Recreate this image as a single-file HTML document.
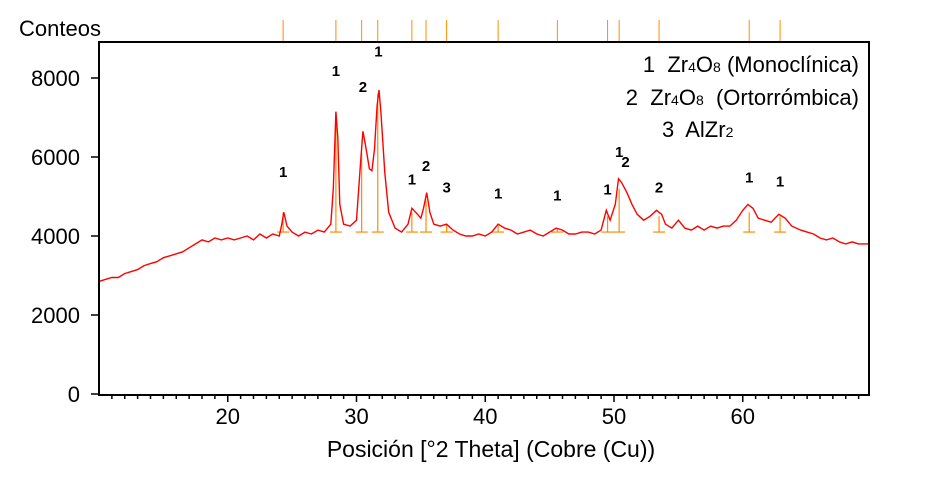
<!DOCTYPE html>
<html><head><meta charset="utf-8"><style>
body{margin:0;background:#fff;}
svg{display:block;font-family:"Liberation Sans",Arial,sans-serif;}
text{white-space:pre;}
</style></head><body>
<svg id="chart" width="933" height="485" viewBox="0 0 933 485" xmlns="http://www.w3.org/2000/svg">
<g id="ticks"></g>
<g id="refs"></g>
<polyline id="spec" fill="none" stroke="#ff0000" stroke-width="1.4"/>
<rect x="99" y="42" width="770" height="353" fill="none" stroke="#000" stroke-width="2"/>
<text x="19" y="36" font-size="22">Conteos</text>
<text x="491" y="457" font-size="23" text-anchor="middle">Posición [°2 Theta] (Cobre (Cu))</text>
<g font-size="22">
<text x="859" y="72" text-anchor="end">1  Zr<tspan font-size="14">4</tspan>O<tspan font-size="14">8</tspan> (Monoclínica)</text>
<text x="859" y="105" text-anchor="end">2  Zr<tspan font-size="14">4</tspan>O<tspan font-size="14">8</tspan>  (Ortorrómbica)</text>
<text x="662" y="137">3  AlZr<tspan font-size="14">2</tspan></text>
</g>
<g id="labels" font-size="15" font-weight="bold" text-anchor="middle"></g>
</svg>
<script>
const xTicks=[20,30,40,50,60];
const yTicks=[0,2000,4000,6000,8000];
const spectrum=[[10,2850],[10.5,2900],[11,2950],[11.5,2950],[12,3050],[12.5,3100],[13,3150],[13.5,3250],[14,3300],[14.5,3350],[15,3450],[15.5,3500],[16,3550],[16.5,3600],[17,3700],[17.5,3800],[18,3900],[18.5,3850],[19,3950],[19.5,3900],[20,3950],[20.5,3900],[21,3950],[21.5,4000],[22,3900],[22.5,4050],[23,3950],[23.5,4050],[24,4000],[24.2,4300],[24.35,4600],[24.6,4250],[25,4100],[25.5,4000],[26,4100],[26.5,4050],[27,4150],[27.5,4100],[28,4300],[28.2,5200],[28.4,7150],[28.55,6500],[28.7,4800],[29,4300],[29.5,4250],[30,4400],[30.3,5800],[30.5,6650],[30.7,6300],[31,5700],[31.2,5650],[31.4,6200],[31.6,7300],[31.75,7700],[31.9,7100],[32.2,5600],[32.5,4600],[33,4200],[33.5,4100],[34,4300],[34.3,4700],[34.6,4600],[35,4450],[35.2,4700],[35.45,5100],[35.7,4600],[36,4300],[36.5,4250],[37,4300],[37.5,4150],[38,4050],[38.5,4000],[39,4000],[39.5,4050],[40,4000],[40.5,4100],[41,4300],[41.5,4200],[42,4150],[42.5,4050],[43,4100],[43.5,4150],[44,4050],[44.5,4000],[45,4100],[45.5,4200],[46,4150],[46.5,4050],[47,4050],[47.5,4100],[48,4100],[48.5,4050],[49,4150],[49.4,4650],[49.7,4400],[50.1,4800],[50.35,5450],[50.6,5350],[51,5100],[51.4,4800],[51.8,4550],[52.3,4400],[52.8,4500],[53.3,4650],[53.7,4550],[54,4300],[54.5,4200],[55,4400],[55.5,4200],[56,4150],[56.5,4250],[57,4150],[57.5,4250],[58,4200],[58.5,4250],[59,4250],[59.5,4400],[60,4650],[60.4,4800],[60.8,4700],[61.2,4450],[61.7,4400],[62.2,4350],[62.8,4550],[63.3,4450],[63.8,4250],[64.5,4150],[65,4100],[65.5,4050],[66,3950],[66.5,3900],[67,3950],[67.5,3850],[68,3800],[68.5,3850],[69,3800],[69.5,3800],[69.8,3800]];
const refPos=[24.3,28.4,30.4,31.65,34.3,35.4,37.0,41.0,45.6,49.5,50.4,53.5,60.5,62.9];
const refTop=[4600,7100,6100,7600,4600,4900,4300,4250,4200,4500,5200,4500,4600,4500];
const labelPos=[24.3,28.4,30.5,31.7,34.3,35.4,37.0,41.0,45.6,49.5,50.4,50.9,53.5,60.5,62.9];
const labelVal=[5500,8050,7650,8550,5300,5650,5100,4950,4900,5050,6000,5750,5100,5350,5250];
const labelText=["1","1","2","1","1","2","3","1","1","1","1","2","2","1","1"];
const NS="http://www.w3.org/2000/svg";
const sx=d=>99+(d-10)*12.875;
const sy=c=>394-c*0.0395;
function mk(tag,attrs,parent){const e=document.createElementNS(NS,tag);for(const k in attrs)e.setAttribute(k,attrs[k]);parent.appendChild(e);return e;}
const tg=document.getElementById('ticks');
for(let d=11;d<=69;d++){const major=xTicks.includes(d);const t=mk('line',{x1:sx(d),x2:sx(d),y1:395,y2:major?402:399,stroke:'#000','stroke-width':1.5},tg);

}
xTicks.forEach(d=>{const t=mk('text',{x:sx(d),y:424,'font-size':22,'text-anchor':'middle'},tg);t.textContent=d;

});
yTicks.forEach(v=>{const l=mk('line',{x1:91,x2:99,y1:sy(v),y2:sy(v),stroke:'#000','stroke-width':1.5},tg);


const t=mk('text',{x:80,y:sy(v)+8,'font-size':22,'text-anchor':'end'},tg);t.textContent=v;

});
const rg=document.getElementById('refs');
refPos.forEach((p,i)=>{const x=sx(p);
const a=mk('line',{x1:x,x2:x,y1:20,y2:42,stroke:'#ff8c00','stroke-width':1},rg);


const b=mk('line',{x1:x,x2:x,y1:sy(4100),y2:sy(refTop[i]),stroke:'#ff8c00','stroke-width':1.2},rg);


const c=mk('line',{x1:x-6,x2:x+6,y1:sy(4100),y2:sy(4100),stroke:'#ff8c00','stroke-width':1.2},rg);

});
document.getElementById('spec').setAttribute('points',spectrum.map(p=>sx(p[0]).toFixed(1)+','+sy(p[1]).toFixed(1)).join(' '));
const lg=document.getElementById('labels');
labelPos.forEach((p,i)=>{const t=mk('text',{x:sx(p),y:sy(labelVal[i])},lg);t.textContent=labelText[i];

});
</script>
</body></html>
